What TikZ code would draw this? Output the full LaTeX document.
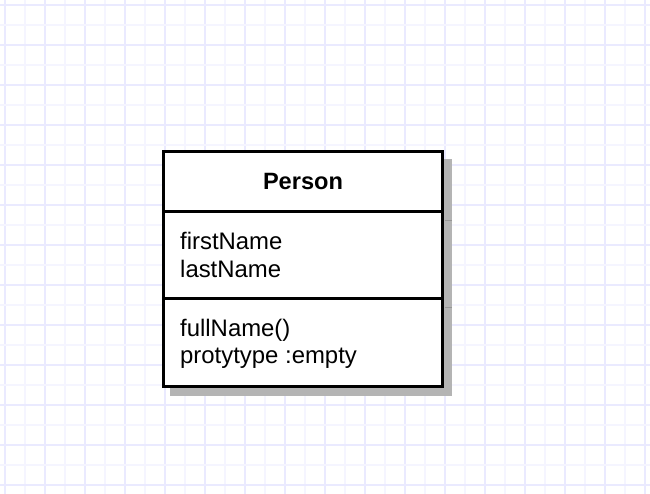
\documentclass[tikz,border=0pt]{standalone}
\usepackage{fontspec}
\setmainfont{Liberation Sans}
\definecolor{gridminor}{RGB}{245,245,255}
\definecolor{gridmajor}{RGB}{234,234,255}
\definecolor{shadowgray}{RGB}{180,180,180}
\definecolor{shadowline}{RGB}{150,150,150}
\tikzset{
  minorline/.style={draw=gridminor,line width=1.3pt},
  majorline/.style={draw=gridmajor,line width=1.3pt},
  umlborder/.style={draw=black,line width=3pt},
  membertext/.style={anchor=base west,inner sep=0pt,font=\fontsize{23.9}{28}\selectfont},
  titletext/.style={anchor=base,inner sep=0pt,font=\bfseries\fontsize{23.6}{28}\selectfont},
}
\begin{document}
\begin{tikzpicture}[x=1pt,y=-1pt]
\useasboundingbox (0,0) rectangle (650,494);
\fill[white] (0,0) rectangle (650,494);
% grid
\foreach \k in {0,...,32} {
  \pgfmathtruncatemacro{\m}{mod(\k,2)}
  \ifnum\m=0
    \draw[majorline] ({5+20*\k},0) -- ({5+20*\k},494);
  \else
    \draw[minorline] ({5+20*\k},0) -- ({5+20*\k},494);
  \fi
}
\foreach \k in {0,...,24} {
  \pgfmathtruncatemacro{\m}{mod(\k,2)}
  \ifnum\m=0
    \draw[majorline] (0,{5+20*\k}) -- (650,{5+20*\k});
  \else
    \draw[minorline] (0,{5+20*\k}) -- (650,{5+20*\k});
  \fi
}
% shadow
\fill[shadowgray] (169.5,159.5) rectangle (451.5,395.5);
\draw[shadowline,line width=1.5pt] (445,220.5) -- (451.5,220.5);
\draw[shadowline,line width=1.5pt] (445,307.5) -- (451.5,307.5);
% box
\coordinate (tl) at (163,151.5);
\coordinate (br) at (442.5,386.5);
\fill[white] (tl) rectangle (br);
\coordinate (d1l) at (163,211.8);
\coordinate (d1r) at (442.5,211.8);
\coordinate (d2l) at (163,298.8);
\coordinate (d2r) at (442.5,298.8);
\draw[umlborder] (d1l) -- (d1r);
\draw[umlborder] (d2l) -- (d2r);
\draw[umlborder] (tl) rectangle (br);
% texts
\node[titletext] (title) at (303,190) {Person};
\node[membertext] (a1) at (180,250) {firstName};
\node[membertext] (a2) at (180,277.5) {lastName};
\node[membertext] (m1) at (180,336) {fullName()};
\node[membertext] (m2) at (180,363) {protytype :empty};
\end{tikzpicture}
\end{document}
